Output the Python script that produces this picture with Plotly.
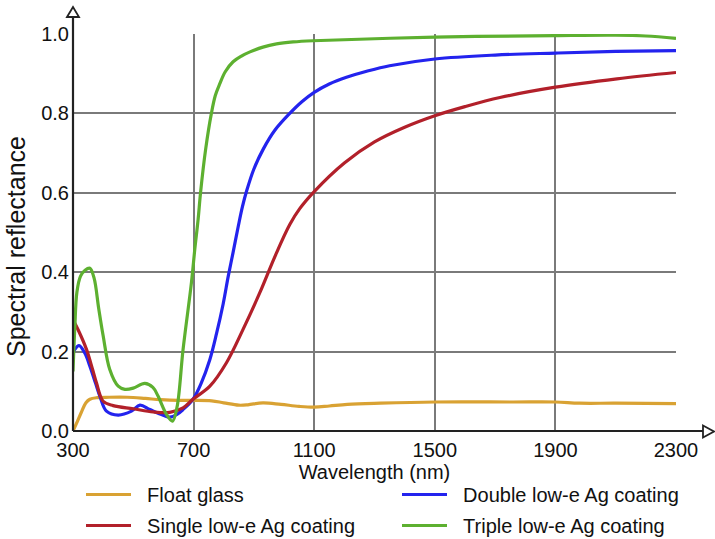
import plotly.graph_objects as go

# ---------------- data ----------------
float_wl = [300, 315, 327, 343, 356, 380, 420, 480, 540, 590, 650, 700, 760, 800, 850, 880,
            930, 990, 1050, 1100, 1150, 1210, 1320, 1500, 1760, 1900, 1980, 2100, 2300]
float_r = [0.0, 0.025, 0.046, 0.071, 0.080, 0.084, 0.085, 0.085, 0.082, 0.079, 0.077, 0.077,
           0.076, 0.071, 0.065, 0.066, 0.071, 0.067, 0.062, 0.060, 0.063, 0.067, 0.070, 0.073,
           0.073, 0.073, 0.070, 0.070, 0.069]

single_wl = [300, 320, 345, 365, 378, 400, 433, 500, 566, 621, 665, 698, 754, 809, 864, 920,
             970, 1019, 1052, 1100, 1200, 1300, 1400, 1500, 1600, 1716, 1900, 2104, 2300]
single_r = [0.28, 0.25, 0.205, 0.155, 0.121, 0.075, 0.064, 0.056, 0.048, 0.047, 0.058, 0.080,
            0.113, 0.172, 0.256, 0.349, 0.440, 0.520, 0.560, 0.603, 0.675, 0.728, 0.765, 0.794,
            0.817, 0.840, 0.866, 0.887, 0.903]

double_wl = [300, 320, 340, 356, 375, 389, 411, 450, 494, 522, 555, 599, 621, 645, 665, 698,
             725, 754, 776, 798, 815, 831, 848, 862, 876, 900, 931, 970, 1019, 1060, 1100, 1150,
             1207, 1274, 1350, 1500, 1700, 1900, 2100, 2300]
double_r = [0.198, 0.215, 0.195, 0.163, 0.120, 0.088, 0.050, 0.040, 0.050, 0.065, 0.054, 0.040,
            0.035, 0.042, 0.054, 0.080, 0.120, 0.180, 0.245, 0.320, 0.390, 0.450, 0.515, 0.565,
            0.605, 0.660, 0.710, 0.758, 0.800, 0.830, 0.853, 0.874, 0.891, 0.906, 0.920, 0.937,
            0.947, 0.952, 0.956, 0.958]

triple_wl = [300, 306, 313, 325, 340, 356, 370, 385, 400, 422, 450, 472, 500, 538, 565, 582,
             610, 630, 645, 665, 693, 704, 715, 723, 740, 759, 772, 787, 805, 831, 860, 887,
             930, 975, 1030, 1096, 1500, 1900, 2100, 2200, 2300]
triple_r = [0.15, 0.26, 0.35, 0.39, 0.405, 0.41, 0.385, 0.31, 0.24, 0.155, 0.113, 0.105, 0.108,
            0.120, 0.110, 0.088, 0.042, 0.025, 0.060, 0.205, 0.375, 0.458, 0.533, 0.600, 0.710,
            0.800, 0.845, 0.875, 0.905, 0.930, 0.945, 0.955, 0.967, 0.975, 0.980, 0.983, 0.992,
            0.996, 0.997, 0.995, 0.989]

x_ticks = [300, 700, 1100, 1500, 1900, 2300]
y_ticks = [0.0, 0.2, 0.4, 0.6, 0.8, 1.0]
y_tick_text = ["0.0", "0.2", "0.4", "0.6", "0.8", "1.0"]

# name, x, y, colour, which legend column
series = [
    ("Float glass", float_wl, float_r, "#D9A233", "legend"),
    ("Double low-e Ag coating", double_wl, double_r, "#2323EE", "legend2"),
    ("Single low-e Ag coating", single_wl, single_r, "#B2202A", "legend"),
    ("Triple low-e Ag coating", triple_wl, triple_r, "#5DB030", "legend2"),
]

FONT = "Liberation Sans, Arial, sans-serif"
PAD = "\u00a0\u00a0"

fig = go.Figure()
for i, (name, xs, ys, col, leg) in enumerate(series):
    fig.add_trace(go.Scatter(x=xs, y=ys, mode="lines", name=PAD + name,
                             legend=leg, legendgroup=f"g{i}",
                             line=dict(color=col, width=3.2, shape="spline", smoothing=1.0)))

W, H = 715, 539
L, R, T, B = 73, 39, 34, 108
pw, ph = W - L - R, H - T - B


def px(x):
    return (x - L) / pw


def py(y):
    return (H - B - y) / ph


shapes = [
    # axis lines extended beyond the plot area
    dict(type="line", xref="paper", yref="paper", x0=0, y0=0, x1=px(708), y1=0,
         line=dict(color="#222222", width=2.2)),
    dict(type="line", xref="paper", yref="paper", x0=0, y0=0, x1=0, y1=py(17),
         line=dict(color="#222222", width=2.2)),
    # open arrow heads
    dict(type="path", xref="paper", yref="paper",
         path=f"M {px(703)},{py(425.5)} L {px(714)},{py(431.5)} L {px(703)},{py(437.5)} Z",
         fillcolor="white", line=dict(color="#222222", width=1.8)),
    dict(type="path", xref="paper", yref="paper",
         path=f"M {px(67)},{py(17)} L {px(73)},{py(7)} L {px(79)},{py(17)} Z",
         fillcolor="white", line=dict(color="#222222", width=1.8)),
]

legend_common = dict(orientation="v", yanchor="top", xanchor="left",
                     font=dict(family=FONT, size=20, color="#111111"),
                     itemwidth=45, traceorder="grouped", tracegroupgap=2,
                     bgcolor="rgba(0,0,0,0)")

fig.update_layout(
    width=W, height=H,
    margin=dict(l=L, r=R, t=T, b=B, pad=0, autoexpand=False),
    paper_bgcolor="white", plot_bgcolor="white",
    font=dict(family=FONT, size=20, color="#111111"),
    shapes=shapes,
    showlegend=True,
    legend=dict(x=px(81), y=py(475), **legend_common),
    legend2=dict(x=px(397), y=py(475), **legend_common),
    annotations=[dict(text="Spectral reflectance", textangle=-90, showarrow=False,
                      xref="paper", yref="paper", x=px(16), y=py(247),
                      xanchor="center", yanchor="middle",
                      font=dict(family=FONT, size=25, color="#111111"))],
    xaxis=dict(range=[300, 2300], tickmode="array", tickvals=x_ticks,
               showgrid=True, gridcolor="#7a7a7a", gridwidth=2, zeroline=False,
               showline=False, ticks="", tickfont=dict(size=20), ticklabelstandoff=5,
               title=dict(text="Wavelength (nm)", font=dict(size=20), standoff=0)),
    yaxis=dict(range=[0, 1.0], tickmode="array", tickvals=y_ticks, ticktext=y_tick_text,
               showgrid=True, gridcolor="#7a7a7a", gridwidth=2, zeroline=False,
               showline=False, ticks="", tickfont=dict(size=20), ticklabelstandoff=3),
)

fig.write_html("out.html", config={"displayModeBar": False},
               post_script="document.body.style.margin='0';")
